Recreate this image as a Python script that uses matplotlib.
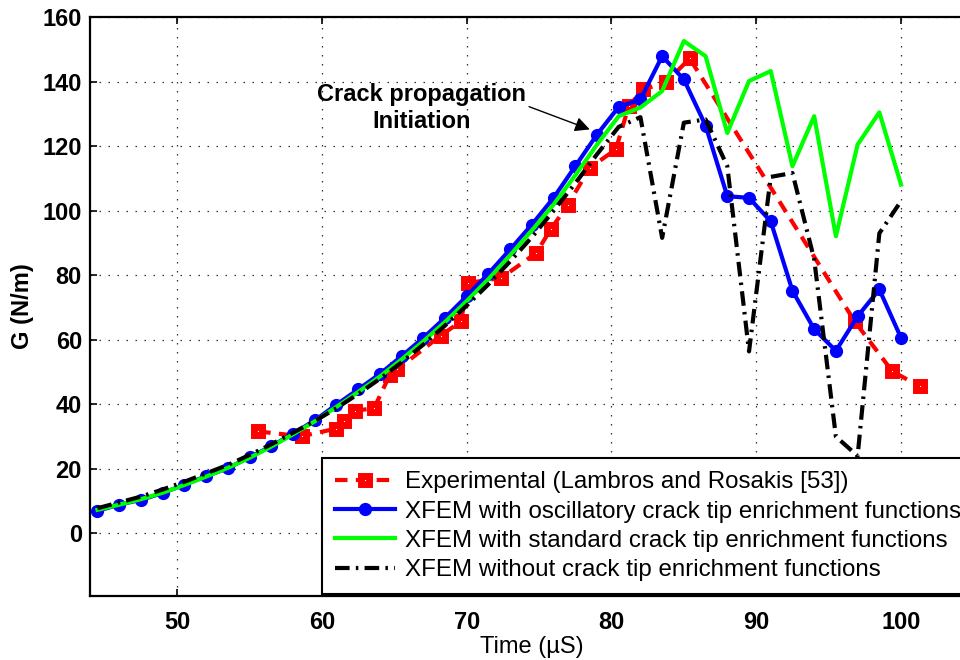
import matplotlib
matplotlib.use('Agg')
import matplotlib.pyplot as plt

plt.rcParams['font.family'] = ['Liberation Sans', 'DejaVu Sans']

# experimental values (Lambros and Rosakis [53])
exp_time = [55.6, 58.6, 61.0, 61.5, 62.3, 63.6, 64.7, 65.2, 68.2, 69.6, 70.1, 72.4,
            74.8, 75.8, 77.0, 78.5, 80.3, 81.2, 82.2, 83.8, 85.4, 96.8, 99.4, 101.3]
exp_G = [31.6, 30.1, 32.5, 34.9, 38.0, 38.8, 49.2, 50.8, 61.3, 65.7, 77.6, 79.2,
         86.9, 94.2, 101.9, 113.3, 119.0, 132.5, 137.6, 139.9, 147.2, 65.7, 50.2, 45.6]

# xfem time steps (micro seconds)
xfem_time = [44.5, 46.0, 47.5, 49.0, 50.5, 52.0, 53.5, 55.0, 56.5, 58.0,
             59.5, 61.0, 62.5, 64.0, 65.5, 67.0, 68.5, 70.0, 71.5, 73.0,
             74.5, 76.0, 77.5, 79.0, 80.5, 82.0, 83.5, 85.0, 86.5, 88.0,
             89.5, 91.0, 92.5, 94.0, 95.5, 97.0, 98.5, 100.0]

G_oscillatory = [7.0, 8.9, 10.4, 12.5, 15.1, 17.7, 20.2, 23.6, 27.0, 30.9,
                 35.0, 39.9, 44.6, 49.4, 54.9, 60.6, 66.8, 73.5, 80.5, 88.0,
                 95.7, 104.0, 113.8, 123.6, 132.2, 134.5, 147.9, 140.7, 126.4, 104.5,
                 104.0, 96.7, 75.2, 63.3, 56.6, 67.3, 75.6, 60.6]

G_standard = [7.3, 8.9, 10.6, 12.6, 15.0, 17.6, 20.3, 23.4, 26.9, 30.7,
              34.7, 39.2, 43.8, 48.6, 53.9, 59.5, 65.5, 72.0, 78.8, 86.2,
              93.9, 101.9, 111.0, 120.5, 129.3, 132.0, 137.1, 152.6, 147.9, 124.1,
              140.2, 143.3, 113.8, 129.3, 92.1, 120.5, 130.5, 108.1]

G_no_tip = [7.8, 9.6, 11.4, 13.6, 16.0, 18.6, 21.2, 24.3, 27.6, 31.2,
            34.8, 38.8, 43.2, 47.9, 53.0, 58.5, 64.4, 70.6, 77.2, 84.3,
            91.8, 100.0, 108.5, 117.5, 126.0, 129.0, 91.6, 127.3, 128.3, 113.8,
            56.4, 110.5, 111.7, 85.0, 30.0, 24.0, 93.0, 103.0]

fig = plt.figure(figsize=(9.6, 6.6), dpi=100)
ax = fig.add_axes([0.094, 0.097, 0.92, 0.877])

# curves
ax.plot(exp_time, exp_G, color='red', linewidth=3, dashes=(3, 2),
        marker='s', markersize=6, markeredgewidth=5, markerfacecolor='white',
        markeredgecolor='red', label='Experimental (Lambros and Rosakis [53])', zorder=3)
ax.plot(xfem_time, G_oscillatory, color='blue', linewidth=3, marker='o', markersize=8.5,
        label='XFEM with oscillatory crack tip enrichment functions', zorder=4)
ax.plot(xfem_time, G_standard, color='#00ff00', linewidth=3,
        label='XFEM with standard crack tip enrichment functions', zorder=5)
ax.plot(xfem_time, G_no_tip, color='black', linewidth=3, dashes=(3.5, 1.5, 0.6, 1.5),
        label='XFEM without crack tip enrichment functions', zorder=6)

ax.set_xlim(44, 105)
ax.set_ylim(-19.4, 160)
ax.set_xticks([50, 60, 70, 80, 90, 100])
ax.set_yticks([0, 20, 40, 60, 80, 100, 120, 140, 160])
ax.tick_params(direction='in', top=True, right=True, length=5, width=1.2,
               labelsize=17, pad=6)
ax.tick_params(axis='x', pad=11)
for lab in ax.get_xticklabels() + ax.get_yticklabels():
    lab.set_fontweight('bold')
for sp in ax.spines.values():
    sp.set_linewidth(1.6)
ax.grid(True, color='#303030', linewidth=0.9, dashes=(1.2, 6))

ax.set_xlabel('Time (\u00b5S)', fontsize=17, labelpad=1)
ax.set_ylabel('G (N/m)', fontsize=17, fontweight='bold')
ax.yaxis.set_label_coords(-0.064, 0.5)

# annotation for crack start
ax.annotate('Crack propagation\nInitiation', xy=(78.5, 125.2), xytext=(66.9, 131.8),
            fontsize=17, fontweight='bold', ha='center', va='center', linespacing=1.25,
            arrowprops=dict(arrowstyle='-|>', color='black', linewidth=1, mutation_scale=22,
                            shrinkA=0, shrinkB=0, relpos=(1.0, 0.55)))

leg = ax.legend(loc='upper left', bbox_to_anchor=(322 / 960, 1 - 458 / 660),
                bbox_transform=fig.transFigure, borderaxespad=0, fontsize=17.4,
                handlelength=2.45, handletextpad=0.45, labelspacing=0.3,
                borderpad=0.55, fancybox=False, framealpha=1, edgecolor='black')
leg.get_frame().set_linewidth(1.5)

fig.savefig('out.png', dpi=100)
